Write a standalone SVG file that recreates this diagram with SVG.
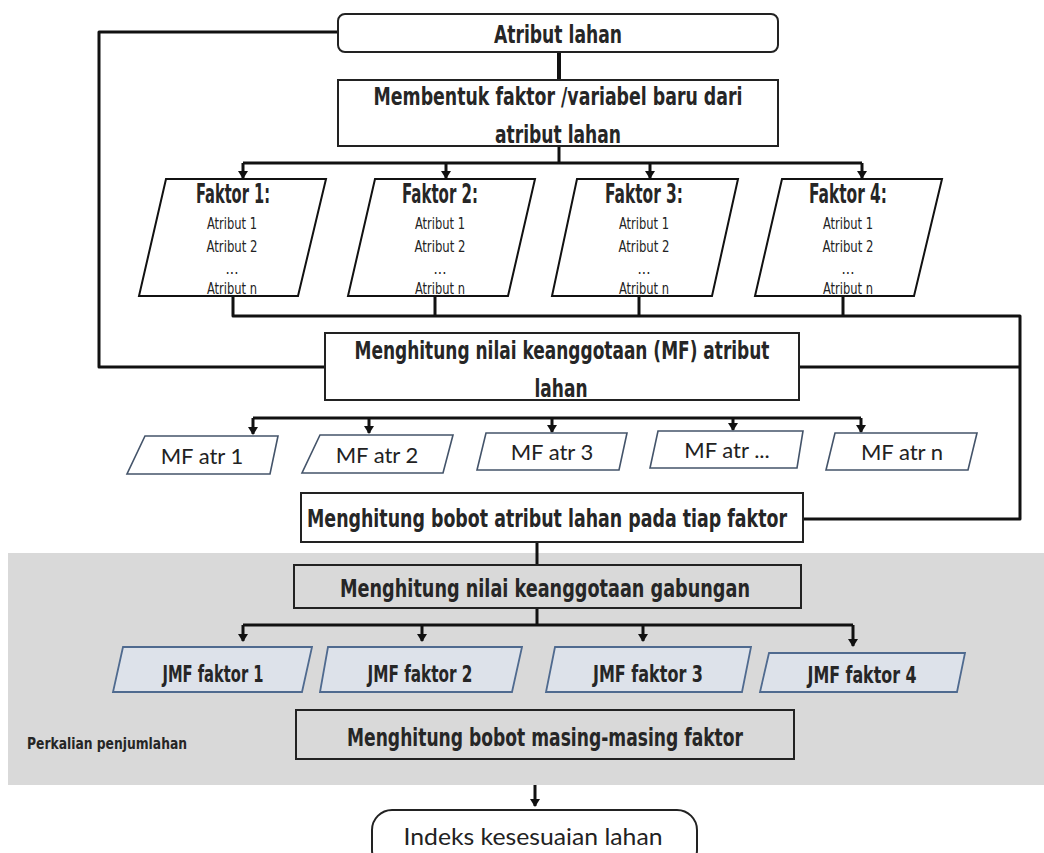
<svg xmlns="http://www.w3.org/2000/svg" width="1044" height="853" viewBox="0 0 1044 853">
<style>
.box{fill:#fff;stroke:#222;stroke-width:2}
.gbox{fill:#d9d9d9;stroke:#222;stroke-width:2}
.fak{fill:#fff;stroke:#111;stroke-width:2}
.mf{fill:#fff;stroke:#44546a;stroke-width:1.6}
.jmf{fill:#dde2ea;stroke:#4f6a8f;stroke-width:1.8}
.c{fill:none;stroke:#111;stroke-width:3;stroke-linejoin:round}
.a{fill:none;stroke:#111;stroke-width:3;marker-end:url(#ah)}
.t{font-family:"DejaVu Sans Condensed","DejaVu Sans",sans-serif;font-stretch:condensed;font-weight:bold;fill:#262626;text-anchor:middle}
.s{font-weight:normal;fill:#222}
.l{font-family:Lato,"Open Sans",sans-serif;fill:#222;text-anchor:middle}
</style>
<defs>
<marker id="ah" markerUnits="userSpaceOnUse" markerWidth="12" markerHeight="12" viewBox="0 -6 8 12" refX="7" refY="0" orient="auto">
<path d="M0,-5 L8,0 L0,5 z" fill="#111"/>
</marker>
</defs>

<rect x="8" y="553" width="1036" height="232" fill="#d9d9d9"/>

<g id="connectors">
<polyline class="c" points="338,32 99,32 99,367 325,367"/>
<line class="c" x1="559" y1="52" x2="559" y2="80" style="stroke-width:4"/>
<line class="c" x1="559" y1="146" x2="559" y2="163"/>
<line class="c" x1="243" y1="163" x2="862" y2="163"/>
<line class="a" x1="243" y1="163" x2="243" y2="178"/>
<line class="a" x1="446" y1="163" x2="446" y2="178"/>
<line class="a" x1="650" y1="163" x2="650" y2="178"/>
<line class="a" x1="862" y1="163" x2="862" y2="178"/>
<polyline class="c" points="233,296 233,316 1020,316 1020,519 803,519"/>
<line class="c" x1="435" y1="296" x2="435" y2="316"/>
<line class="c" x1="639" y1="296" x2="639" y2="316"/>
<line class="c" x1="843" y1="296" x2="843" y2="316"/>
<line class="c" x1="799" y1="367" x2="1020" y2="367"/>
<line class="c" x1="253" y1="418" x2="861" y2="418"/>
<line class="a" x1="253" y1="418" x2="253" y2="434"/>
<line class="a" x1="369" y1="418" x2="369" y2="433"/>
<line class="a" x1="552" y1="418" x2="552" y2="432"/>
<line class="a" x1="733" y1="418" x2="733" y2="430"/>
<line class="a" x1="861" y1="418" x2="861" y2="432"/>
<line class="c" x1="537" y1="542" x2="537" y2="565"/>
<line class="c" x1="537" y1="608" x2="537" y2="625"/>
<line class="c" x1="243" y1="625" x2="853" y2="625"/>
<line class="a" x1="243" y1="625" x2="243" y2="641"/>
<line class="a" x1="422" y1="625" x2="422" y2="641"/>
<line class="a" x1="643" y1="625" x2="643" y2="641"/>
<line class="a" x1="853" y1="625" x2="853" y2="646"/>
<line class="a" x1="535" y1="785" x2="535" y2="806"/>
</g>

<g id="atribut-lahan">
<rect class="box" x="338" y="14" width="440" height="38" rx="7"/>
<text class="t" x="558" y="43" font-size="24" textLength="128" lengthAdjust="spacingAndGlyphs">Atribut lahan</text>
</g>

<g id="membentuk">
<rect class="box" x="338" y="80" width="440" height="66"/>
<text class="t" x="558" y="105" font-size="24" textLength="369" lengthAdjust="spacingAndGlyphs">Membentuk faktor /variabel baru dari</text>
<text class="t" x="558" y="143" font-size="24" textLength="126" lengthAdjust="spacingAndGlyphs">atribut lahan</text>
</g>

<g id="faktor1">
<polygon class="fak" points="166,179 326,179 298,296 139,296"/>
<text class="t" x="233" y="203" font-size="27" textLength="74" lengthAdjust="spacingAndGlyphs">Faktor 1:</text>
<text class="t s" x="232" y="229" font-size="16" textLength="50" lengthAdjust="spacingAndGlyphs">Atribut 1</text>
<text class="t s" x="232" y="252" font-size="16" textLength="51" lengthAdjust="spacingAndGlyphs">Atribut 2</text>
<text class="t s" x="232" y="274" font-size="15">...</text>
<text class="t s" x="232" y="294" font-size="16" textLength="50" lengthAdjust="spacingAndGlyphs">Atribut n</text>
</g>
<g id="faktor2">
<polygon class="fak" points="375,179 535,179 508,296 348,296"/>
<text class="t" x="440" y="203" font-size="27" textLength="76" lengthAdjust="spacingAndGlyphs">Faktor 2:</text>
<text class="t s" x="440" y="229" font-size="16" textLength="50" lengthAdjust="spacingAndGlyphs">Atribut 1</text>
<text class="t s" x="440" y="252" font-size="16" textLength="51" lengthAdjust="spacingAndGlyphs">Atribut 2</text>
<text class="t s" x="440" y="274" font-size="15">...</text>
<text class="t s" x="440" y="294" font-size="16" textLength="50" lengthAdjust="spacingAndGlyphs">Atribut n</text>
</g>
<g id="faktor3">
<polygon class="fak" points="577,179 738,179 712,296 552,296"/>
<text class="t" x="644" y="203" font-size="27" textLength="78" lengthAdjust="spacingAndGlyphs">Faktor 3:</text>
<text class="t s" x="644" y="229" font-size="16" textLength="50" lengthAdjust="spacingAndGlyphs">Atribut 1</text>
<text class="t s" x="644" y="252" font-size="16" textLength="51" lengthAdjust="spacingAndGlyphs">Atribut 2</text>
<text class="t s" x="644" y="274" font-size="15">...</text>
<text class="t s" x="644" y="294" font-size="16" textLength="50" lengthAdjust="spacingAndGlyphs">Atribut n</text>
</g>
<g id="faktor4">
<polygon class="fak" points="782,179 942,179 914,296 755,296"/>
<text class="t" x="848" y="203" font-size="27" textLength="78" lengthAdjust="spacingAndGlyphs">Faktor 4:</text>
<text class="t s" x="848" y="229" font-size="16" textLength="50" lengthAdjust="spacingAndGlyphs">Atribut 1</text>
<text class="t s" x="848" y="252" font-size="16" textLength="51" lengthAdjust="spacingAndGlyphs">Atribut 2</text>
<text class="t s" x="848" y="274" font-size="15">...</text>
<text class="t s" x="848" y="294" font-size="16" textLength="50" lengthAdjust="spacingAndGlyphs">Atribut n</text>
</g>

<g id="menghitung-mf">
<rect class="box" x="325" y="333" width="474" height="67"/>
<text class="t" x="562" y="359" font-size="24" textLength="415" lengthAdjust="spacingAndGlyphs">Menghitung nilai keanggotaan (MF) atribut</text>
<text class="t" x="561" y="397" font-size="24" textLength="53" lengthAdjust="spacingAndGlyphs">lahan</text>
</g>

<g id="mf1">
<polygon class="mf" points="145,436 278,436 270,474 127,474"/>
<text class="l" x="202" y="464" font-size="22">MF atr 1</text>
</g>
<g id="mf2">
<polygon class="mf" points="320,435 453,435 443,473 302,473"/>
<text class="l" x="377" y="463" font-size="22">MF atr 2</text>
</g>
<g id="mf3">
<polygon class="mf" points="486,433 627,433 619,470 477,470"/>
<text class="l" x="552" y="460" font-size="22">MF atr 3</text>
</g>
<g id="mf-dots">
<polygon class="mf" points="658,431 803,431 797,468 650,468"/>
<text class="l" x="727" y="458" font-size="22">MF atr ...</text>
</g>
<g id="mfn">
<polygon class="mf" points="835,433 977,433 968,470 826,470"/>
<text class="l" x="902" y="460" font-size="22">MF atr n</text>
</g>

<g id="bobot-atribut">
<rect class="box" x="301" y="493" width="502" height="49"/>
<text class="t" x="547" y="527" font-size="24" textLength="480" lengthAdjust="spacingAndGlyphs">Menghitung bobot atribut lahan pada tiap faktor</text>
</g>

<g id="gabungan">
<rect class="gbox" x="294" y="565" width="507" height="43"/>
<text class="t" x="545" y="597" font-size="24" textLength="410" lengthAdjust="spacingAndGlyphs">Menghitung nilai keanggotaan gabungan</text>
</g>

<g id="jmf1">
<polygon class="jmf" points="123,647 312,647 302,692 113,692"/>
<text class="t" x="213" y="682" font-size="23" textLength="101" lengthAdjust="spacingAndGlyphs">JMF faktor 1</text>
</g>
<g id="jmf2">
<polygon class="jmf" points="328,647 522,647 512,692 320,692"/>
<text class="t" x="420" y="682" font-size="23" textLength="105" lengthAdjust="spacingAndGlyphs">JMF faktor 2</text>
</g>
<g id="jmf3">
<polygon class="jmf" points="555,647 751,647 742,692 546,692"/>
<text class="t" x="648" y="682" font-size="23" textLength="110" lengthAdjust="spacingAndGlyphs">JMF faktor 3</text>
</g>
<g id="jmf4">
<polygon class="jmf" points="769,653 965,653 957,692 760,692"/>
<text class="t" x="862" y="683" font-size="23" textLength="109" lengthAdjust="spacingAndGlyphs">JMF faktor 4</text>
</g>

<g id="perkalian">
<text class="t" x="107" y="749" font-size="16" textLength="160" lengthAdjust="spacingAndGlyphs">Perkalian penjumlahan</text>
</g>

<g id="bobot-faktor">
<rect class="gbox" x="296" y="710" width="498" height="49"/>
<text class="t" x="545" y="746" font-size="24" textLength="396" lengthAdjust="spacingAndGlyphs">Menghitung bobot masing-masing faktor</text>
</g>

<g id="indeks">
<rect class="box" x="372" y="810" width="325" height="60" rx="20"/>
<text class="l" x="533" y="845" font-size="23" textLength="259" lengthAdjust="spacingAndGlyphs">Indeks kesesuaian lahan</text>
</g>
</svg>
